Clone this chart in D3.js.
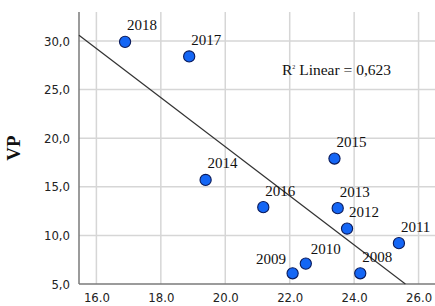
<!DOCTYPE html>
<html>
<head>
<meta charset="utf-8">
<script src="https://cdn.jsdelivr.net/npm/d3@7"></script>
<style>
  html, body { margin: 0; padding: 0; background: #fff; }
  svg { display: block; }
</style>
</head>
<body>
<svg id="chart" width="435" height="306"></svg>
<script>
// ---- data ----
const years = ["2018", "2017", "2014", "2016", "2015", "2013", "2012", "2011", "2010", "2009", "2008"];
const xValues = [16.89, 18.88, 19.39, 21.18, 23.39, 23.49, 23.78, 25.39, 22.50, 22.09, 24.19];
const vpValues = [29.9, 28.4, 15.7, 12.9, 17.9, 12.8, 10.7, 9.2, 7.1, 6.1, 6.1];
const xTicks = [16, 18, 20, 22, 24, 26];
const yTicks = [5, 10, 15, 20, 25, 30];
const yTitle = "VP";
const fitLabel = "Linear = 0,623";

// ---- layout ----
const W = 435, H = 306;
const m = { left: 79, top: 12, right: 0, bottom: 22 };
const svg = d3.select("#chart");

const x = d3.scaleLinear().domain([15.46, 26.51]).range([m.left, W - m.right]);
const y = d3.scaleLinear().domain([5, 32.97]).range([H - m.bottom, m.top]);

const fmtX = d3.format(".1f");
const fmtY = v => d3.format(".1f")(v).replace(".", ",");

// grid
const grid = svg.append("g");
grid.selectAll("line.vx").data(xTicks).join("line")
  .attr("x1", d => x(d)).attr("x2", d => x(d))
  .attr("y1", y.range()[1]).attr("y2", y.range()[0])
  .attr("stroke", "#d6d6d6").attr("stroke-width", 1.5);
grid.selectAll("line.hy").data(yTicks.filter(t => t > 5)).join("line")
  .attr("x1", x.range()[0]).attr("x2", x.range()[1])
  .attr("y1", d => y(d)).attr("y2", d => y(d))
  .attr("stroke", "#d6d6d6").attr("stroke-width", 1.5);

// axes
const tickFont = "'DejaVu Sans Condensed', 'DejaVu Sans', sans-serif";
const xAxis = svg.append("g").attr("transform", `translate(0,${y(5)})`)
  .call(d3.axisBottom(x).tickValues(xTicks).tickFormat(fmtX).tickSize(0).tickPadding(9));
const yAxis = svg.append("g").attr("transform", `translate(${x.range()[0]},0)`)
  .call(d3.axisLeft(y).tickValues(yTicks).tickFormat(fmtY).tickSize(0).tickPadding(9));
[xAxis, yAxis].forEach(a => {
  a.select(".domain").attr("stroke", "#7a7a7a").attr("stroke-width", 1.5);
  a.selectAll("text").attr("font-family", tickFont).attr("font-size", 13)
    .attr("fill", "#222").attr("font-stretch", "condensed");
});
xAxis.select(".domain").attr("d", `M${x.range()[0]},0H${x.range()[1]}`);
yAxis.select(".domain").attr("d", `M0,${y.range()[0]}V${y.range()[1]}`);

// y title
svg.append("text")
  .attr("transform", `translate(20,148) rotate(-90)`)
  .attr("text-anchor", "middle")
  .attr("font-family", "'Liberation Serif', 'Times New Roman', serif")
  .attr("font-weight", "bold").attr("font-size", 19).attr("fill", "#111")
  .text(yTitle);

// regression fit (least squares from the data)
const n = xValues.length;
const mx = d3.mean(xValues), my = d3.mean(vpValues);
let sxy = 0, sxx = 0;
for (let i = 0; i < n; i++) { sxy += (xValues[i] - mx) * (vpValues[i] - my); sxx += (xValues[i] - mx) ** 2; }
const slope = sxy / sxx, icpt = my - slope * mx;
const x0 = x.domain()[0];
const x1 = Math.min(x.domain()[1], (y.domain()[0] - icpt) / slope);
svg.append("line")
  .attr("x1", x(x0)).attr("y1", y(icpt + slope * x0))
  .attr("x2", x(x1)).attr("y2", y(icpt + slope * x1))
  .attr("stroke", "#333").attr("stroke-width", 1.2);

// R² label
const r2 = svg.append("text")
  .attr("x", 282).attr("y", 75)
  .attr("font-family", "'Liberation Serif', 'Times New Roman', serif")
  .attr("font-size", 15.5).attr("fill", "#111");
r2.append("tspan").text("R");
r2.append("tspan").attr("font-size", 6).attr("dy", -6).text("2");
r2.append("tspan").attr("dy", 6).text(" " + fitLabel);

// points
const pts = years.map((yr, i) => ({ yr, xv: xValues[i], v: vpValues[i] }));
svg.append("g").selectAll("circle").data(pts).join("circle")
  .attr("cx", d => x(d.xv)).attr("cy", d => y(d.v)).attr("r", 5.6)
  .attr("fill", "#1466f5").attr("stroke", "#0a1a5a").attr("stroke-width", 1.1);

// point labels
const labelNudge = { "2009": { dx: -6.5, dy: -9.5, anchor: "end" }, "2010": { dx: 5, dy: -9.5 } };
svg.append("g").selectAll("text").data(pts).join("text")
  .attr("x", d => x(d.xv) + (labelNudge[d.yr] ? labelNudge[d.yr].dx : 2))
  .attr("y", d => y(d.v) + (labelNudge[d.yr] ? labelNudge[d.yr].dy : -11.5))
  .attr("text-anchor", d => (labelNudge[d.yr] && labelNudge[d.yr].anchor) || "start")
  .attr("font-family", "'Liberation Serif', 'Times New Roman', serif")
  .attr("font-size", 15).attr("fill", "#111")
  .text(d => d.yr);
</script>
</body>
</html>
